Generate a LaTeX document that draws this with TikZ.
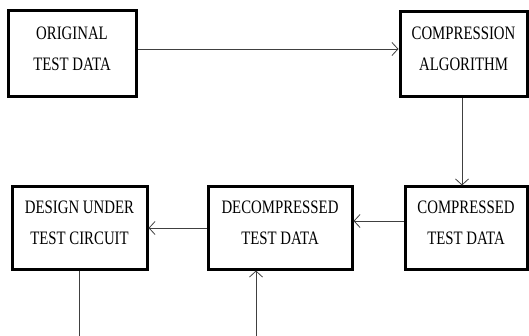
\documentclass[tikz,border=0pt]{standalone}
\usepackage{fontspec}
\usetikzlibrary{arrows.meta,calc}
\newfontfamily\boxfont{Liberation Serif}[FakeStretch=0.78]
\tikzset{
  blk/.style={draw=black, line width=3pt, rectangle, inner sep=0pt,
    align=center, font=\boxfont\fontsize{19}{31}\selectfont,
    execute at end node={\rule[-11pt]{0pt}{0pt}}},
  flow/.style={draw=black!75, line width=0.8pt,
    -{Straight Barb[length=6pt,width=13pt]}},
  plain/.style={draw=black!75, line width=0.8pt}
}
\begin{document}
\begin{tikzpicture}[x=1pt,y=-1pt]
  \useasboundingbox (0,0) rectangle (529,336);
  % processing blocks
  \node[blk, minimum width=128pt, minimum height=86pt] (orig) at (72,54) {ORIGINAL\\TEST DATA};
  \node[blk, minimum width=127pt, minimum height=85pt] (algo) at (463.5,54.5) {COMPRESSION\\ALGORITHM};
  \node[blk, minimum width=122pt, minimum height=82pt] (comp) at (466,228) {COMPRESSED\\TEST DATA};
  \node[blk, minimum width=144pt, minimum height=82pt] (decomp) at (280,228) {DECOMPRESSED\\TEST DATA};
  \node[blk, minimum width=135pt, minimum height=82pt] (dut) at (79.5,228) {DESIGN UNDER\\TEST CIRCUIT};
  % connector start points
  \coordinate (origout) at ($(orig.east)+(0,-5)$);
  \coordinate (algoout) at ($(algo.south)+(-1.5,0)$);
  \coordinate (compout) at ($(comp.west)+(0,-7)$);
  % free ends at the lower border
  \coordinate (dutout) at (79.5,336);
  \coordinate (decin) at (256,336);
  % connectors
  \draw[flow] (origout) -- (origout -| algo.west);
  \draw[flow] (algoout) -- (algoout |- comp.north);
  \draw[flow] (compout) -- (compout -| decomp.east);
  \draw[flow] (decomp.west) -- (dut.east);
  \draw[plain] (dut.south) -- (dutout);
  \draw[flow] (decin) -- (decin |- decomp.south);
\end{tikzpicture}
\end{document}
